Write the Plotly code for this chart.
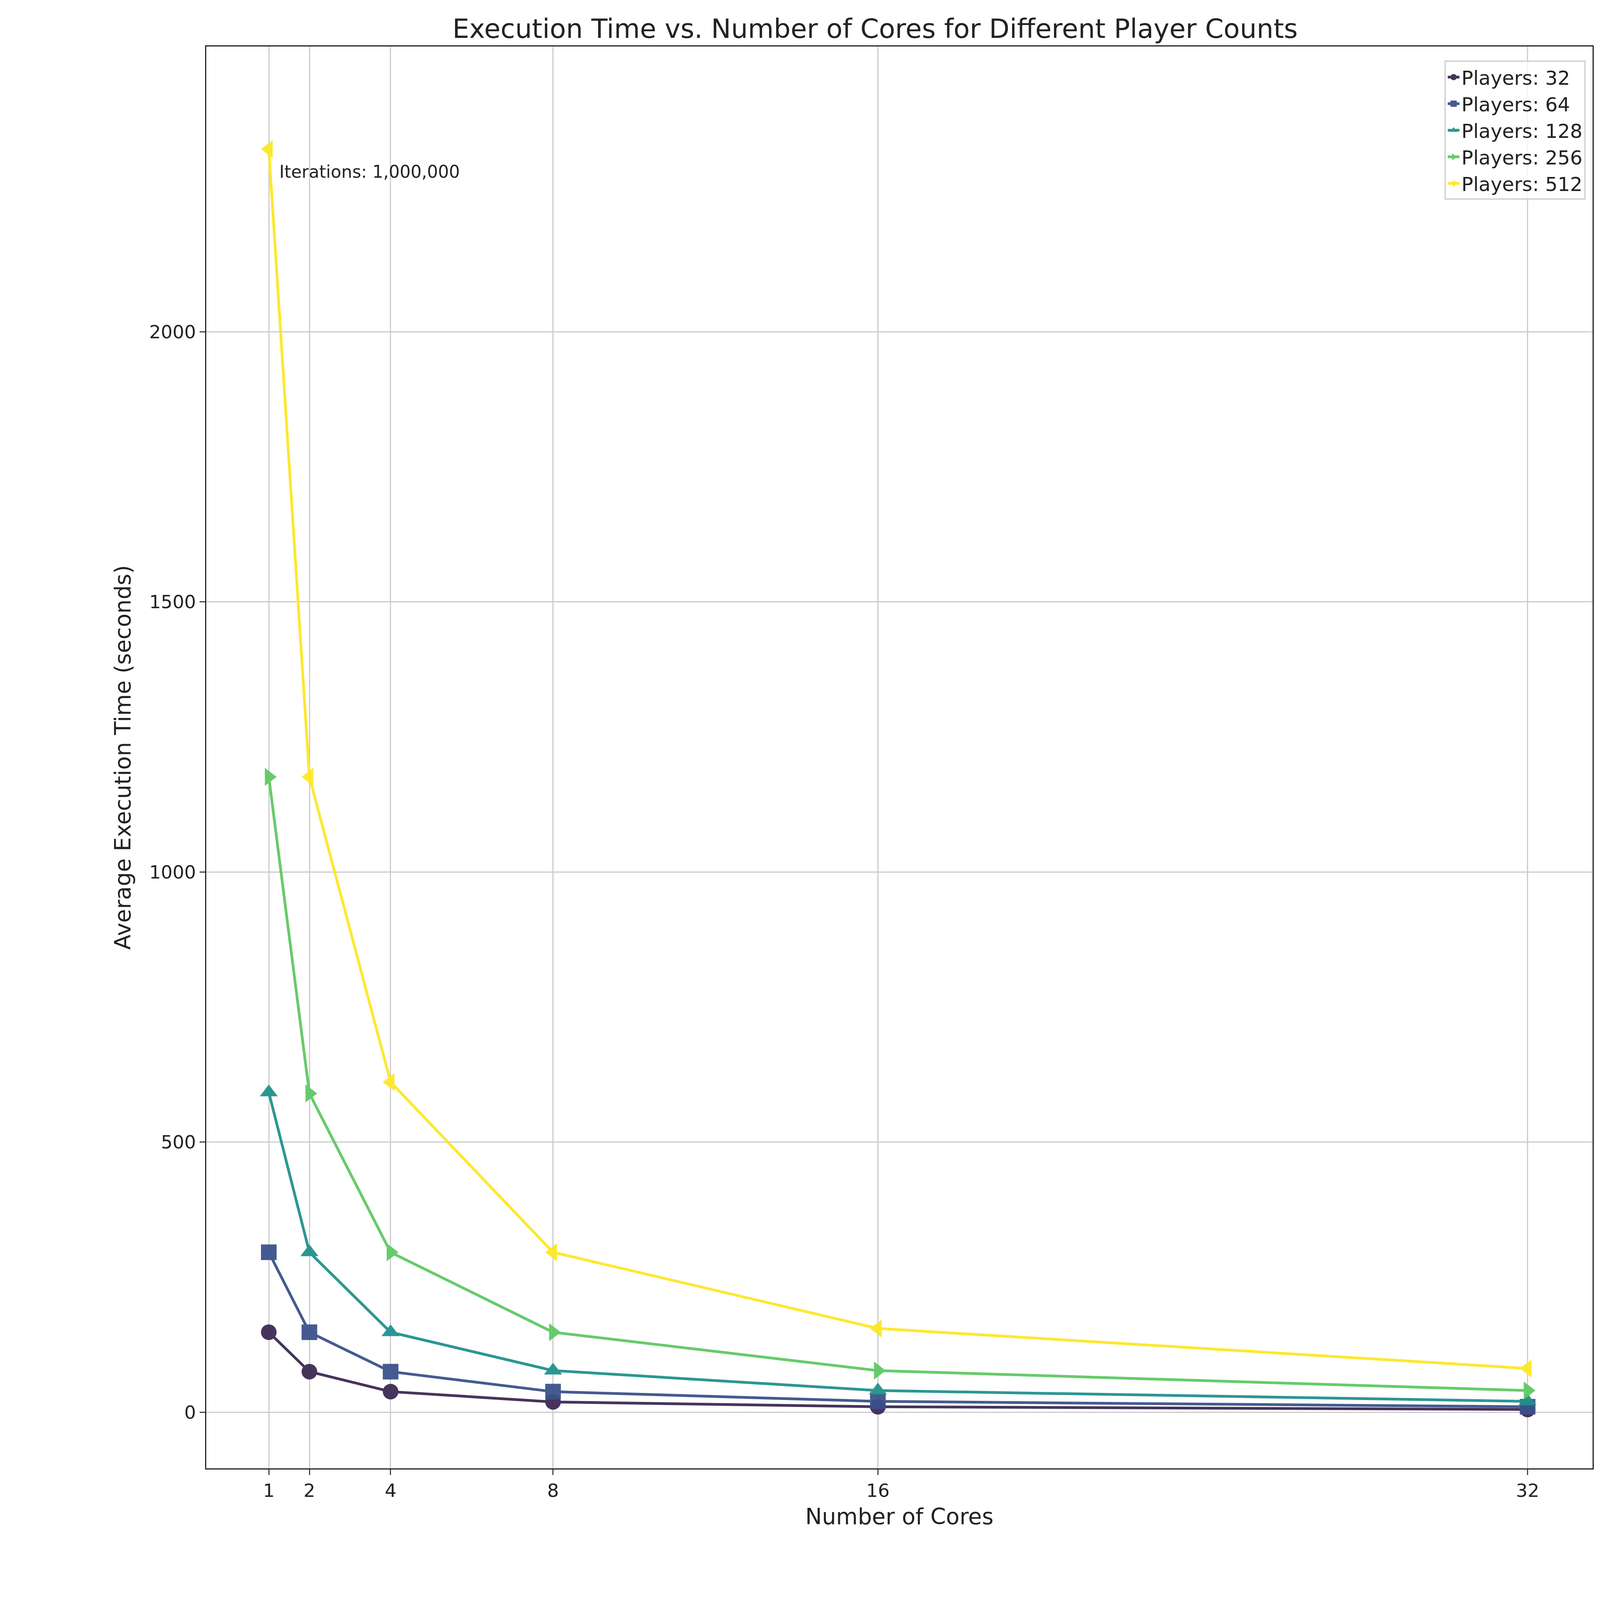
import plotly.graph_objects as go

cores = [1, 2, 4, 8, 16, 32]
players = [32, 64, 128, 256, 512]
times = {
    32: [148, 75, 38, 19, 10, 5],
    64: [296, 148, 75, 38, 20, 10],
    128: [592, 296, 148, 77, 40, 20],
    256: [1176, 590, 296, 148, 77, 40],
    512: [2338, 1176, 611, 296, 155, 81],
}
colors = ["#3d2a52", "#3b528b", "#21918c", "#5ec962", "#fde725"]
symbols = ["circle", "square", "triangle-up", "triangle-right", "triangle-left"]

fig = go.Figure()
for p, c, s in zip(players, colors, symbols):
    fig.add_trace(go.Scatter(x=cores, y=times[p], mode="lines+markers", name=f"Players: {p}",
                             line=dict(color=c, width=7), marker=dict(symbol=s, size=40, color=c),
                             opacity=0.95))

axis = dict(showline=True, linecolor="#222", linewidth=3, mirror=True, gridcolor="#cccccc", gridwidth=3,
            ticks="outside", ticklen=14, tickwidth=3, tickfont=dict(size=47, color="#222"), zeroline=False)
fig.update_layout(
    autosize=True, plot_bgcolor="white", paper_bgcolor="white",
    font=dict(family="DejaVu Sans", color="#222"),
    margin=dict(l=520, r=27, t=111, b=345),
    title=dict(text="Execution Time vs. Number of Cores for Different Player Counts", x=0.545, xanchor="center",
               y=0.99, yanchor="top", font=dict(size=68)),
    xaxis=dict(axis, range=[-0.54, 33.6], tickvals=cores,
               title=dict(text="Number of Cores", font=dict(size=57), standoff=20)),
    yaxis=dict(axis, range=[-104, 2528], tickvals=[0, 500, 1000, 1500, 2000],
               title=dict(text="Average Execution Time (seconds)", font=dict(size=57), standoff=30)),
    legend=dict(x=0.995, y=0.99, xanchor="right", yanchor="top", bordercolor="#ccc", borderwidth=3,
                font=dict(size=50), bgcolor="rgba(255,255,255,0.8)"),
    annotations=[dict(text="Iterations: 1,000,000", xref="paper", yref="paper", x=0.052, y=0.912,
                      xanchor="left", yanchor="middle", showarrow=False, font=dict(size=44, color="#222"))],
)
fig.write_html("out.html", default_width="100vw", default_height="100vh",
               include_plotlyjs=True)
